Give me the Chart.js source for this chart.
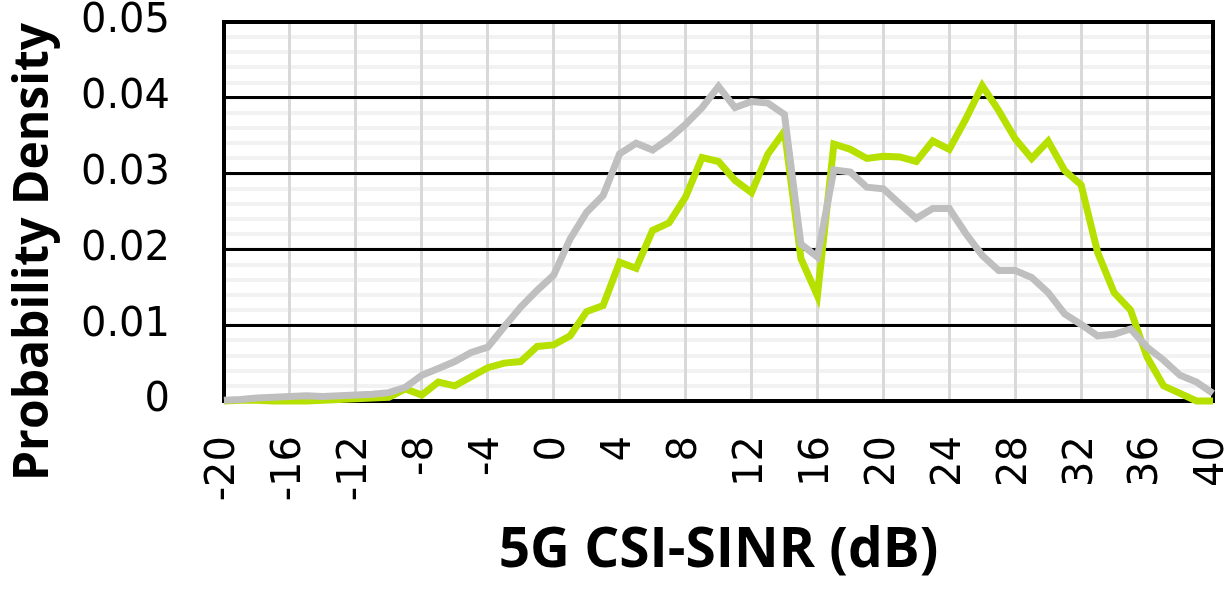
<!DOCTYPE html>
<html>
<head>
<meta charset="utf-8">
<script src="https://cdn.jsdelivr.net/npm/chart.js@4"></script>
<style>
  body { margin: 0; background: #fff; }
</style>
</head>
<body>
<canvas id="chart" width="1231" height="589"></canvas>
<script>
"use strict";

// SINR bins (dB)
const sinr = [
    -20, -19, -18, -17, -16, -15, -14, -13, -12, -11,
    -10, -9, -8, -7, -6, -5, -4, -3, -2, -1,
    0, 1, 2, 3, 4, 5, 6, 7, 8, 9,
    10, 11, 12, 13, 14, 15, 16, 17, 18, 19,
    20, 21, 22, 23, 24, 25, 26, 27, 28, 29,
    30, 31, 32, 33, 34, 35, 36, 37, 38, 39,
    40
];

const grayDensity = [
    0.0001, 0.0002, 0.0004, 0.0005, 0.0006, 0.0007, 0.0006, 0.0007, 0.0008, 0.0009,
    0.0011, 0.0018, 0.0034, 0.0043, 0.0052, 0.0064, 0.0071, 0.0098, 0.0124, 0.0146,
    0.0166, 0.0214, 0.0249, 0.0271, 0.0326, 0.0340, 0.0331, 0.0346, 0.0365, 0.0387,
    0.0415, 0.0387, 0.0395, 0.0393, 0.0378, 0.0207, 0.0190, 0.0305, 0.0302, 0.0282,
    0.0280, 0.0260, 0.0241, 0.0254, 0.0254, 0.0221, 0.0192, 0.0172, 0.0172, 0.0163,
    0.0143, 0.0115, 0.0101, 0.0086, 0.0088, 0.0095, 0.0071, 0.0054, 0.0034, 0.0025,
    0.0010
];

const greenDensity = [
    0.0000, 0.0001, 0.0001, 0.0000, 0.0000, 0.0000, 0.0001, 0.0002, 0.0003, 0.0004,
    0.0005, 0.0016, 0.0008, 0.0025, 0.0020, 0.0032, 0.0044, 0.0050, 0.0052, 0.0072,
    0.0074, 0.0086, 0.0118, 0.0126, 0.0183, 0.0175, 0.0225, 0.0235, 0.0269, 0.0321,
    0.0316, 0.0291, 0.0275, 0.0326, 0.0356, 0.0188, 0.0139, 0.0339, 0.0332, 0.0320,
    0.0323, 0.0322, 0.0316, 0.0343, 0.0332, 0.0372, 0.0416, 0.0383, 0.0346, 0.0320,
    0.0343, 0.0304, 0.0285, 0.0196, 0.0143, 0.0120, 0.0058, 0.0020, 0.0010, 0.0000,
    0.0000
];

const xTitle = "5G CSI-SINR (dB)";
const yTitle = "Probability Density";

const tickFont = { family: "DejaVu Sans", size: 40, lineHeight: 1 };

function toPoints(values) {
    return sinr.map((x, i) => ({ x: x, y: values[i] }));
}

// chart.js adds tick padding to the scale padding, drop it so the plot box stays put
function noPadding(scale) {
    scale.paddingTop = 0;
    scale.paddingBottom = 0;
    scale.paddingLeft = 0;
    scale.paddingRight = 0;
}

// black frame around the plot area
const framePlugin = {
    id: "frame",
    beforeDatasetsDraw(chart) {
        const { ctx, chartArea } = chart;
        ctx.save();
        ctx.strokeStyle = "#000";
        ctx.lineWidth = 4;
        ctx.strokeRect(chartArea.left, chartArea.top,
            chartArea.right - chartArea.left, chartArea.bottom - chartArea.top);
        ctx.restore();
    }
};

// y title sits a bit below the plot centre, so draw it by hand
const yTitlePlugin = {
    id: "yTitle",
    afterDraw(chart) {
        const ctx = chart.ctx;
        ctx.save();
        ctx.translate(34, 252);
        ctx.rotate(-Math.PI / 2);
        ctx.font = 'bold 48px "Open Sans"';
        ctx.textAlign = "center";
        ctx.textBaseline = "middle";
        ctx.fillStyle = "#000";
        ctx.fillText(yTitle, 0, 0);
        ctx.restore();
    }
};

new Chart(document.getElementById("chart"), {
    type: "line",
    data: {
        datasets: [
            {
                data: toPoints(grayDensity),
                borderColor: "#bfbfbf",
                borderWidth: 7,
                pointRadius: 0,
                tension: 0,
                clip: false
            },
            {
                data: toPoints(greenDensity),
                borderColor: "#b6e000",
                borderWidth: 7,
                pointRadius: 0,
                tension: 0,
                clip: false
            }
        ]
    },
    options: {
        responsive: false,
        animation: false,
        layout: { padding: { top: 22, right: 18, bottom: 0, left: 0 } },
        plugins: {
            legend: { display: false },
            tooltip: { enabled: false }
        },
        scales: {
            x: {
                type: "linear",
                min: -20,
                max: 40,
                ticks: {
                    stepSize: 4,
                    autoSkip: false,
                    maxRotation: 90,
                    minRotation: 90,
                    padding: 35,
                    color: "#000",
                    font: tickFont
                },
                grid: { color: "#d9d9d9", lineWidth: 3, drawTicks: false, z: -2 },
                border: { display: false },
                title: {
                    display: true,
                    text: xTitle,
                    color: "#000",
                    font: { family: "Open Sans", size: 55, weight: "bold" },
                    padding: { top: 0, bottom: 5 }
                },
                afterFit(scale) {
                    scale.height = 188;
                    noPadding(scale);
                }
            },
            yMinor: {
                type: "linear",
                position: "left",
                min: 0,
                max: 0.05,
                ticks: { display: false, stepSize: 0.002, autoSkip: false },
                grid: { color: "#f2f2f2", lineWidth: 4, drawTicks: false, z: -3 },
                border: { display: false },
                afterFit(scale) {
                    scale.width = 0;
                    noPadding(scale);
                }
            },
            y: {
                type: "linear",
                position: "left",
                min: 0,
                max: 0.05,
                ticks: {
                    stepSize: 0.01,
                    padding: 54,
                    color: "#000",
                    font: tickFont
                },
                grid: { color: "#000", lineWidth: 3, drawTicks: false, z: -1 },
                border: { display: false },
                afterFit(scale) {
                    scale.width = 224;
                    noPadding(scale);
                }
            }
        }
    },
    plugins: [framePlugin, yTitlePlugin]
});
</script>
</body>
</html>
